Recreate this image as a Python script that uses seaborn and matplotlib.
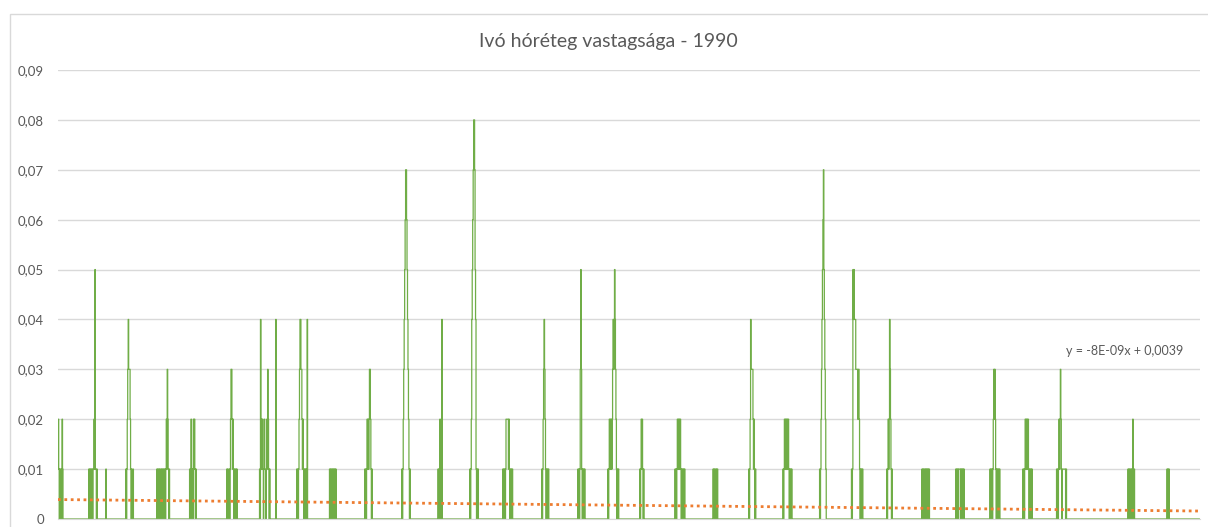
import numpy as np
import pandas as pd
import seaborn as sns
import matplotlib.pyplot as plt
from matplotlib.ticker import FuncFormatter, MultipleLocator
from matplotlib.patches import Rectangle

# chart data
title = "Ivó hóréteg vastagsága - 1990"
n_samples = 2400
minutes_per_sample = 120
# snow depth bursts: first sample index + depth per sample (in cm)
cluster_start = [0, 65, 101, 143, 208, 277, 355, 424, 458, 502, 571, 645, 723, 799,
                 866, 935, 1017, 1093, 1156, 1223, 1297, 1377, 1452, 1524, 1601,
                 1668, 1742, 1816, 1887, 1959, 2028, 2099, 2249, 2331]
cluster_levels = ["12101101021", "101011010112151101", "1", "10123433321010010",
                  "1011010110101101010121321010", "10121010212101",
                  "1010010123321210101101", "1041212101211012132101", "4",
                  "10101234433212101010104", "10101101010101", "10101212123321010",
                  "1012345677654321010", "10102010400", "1012456788754101010",
                  "101010122222121010101", "1012343210101010", "101013531010101",
                  "10121212123434543210101", "1012121010", "101012121212101010101",
                  "1010110101", "101243333212101", "1012121212121010101",
                  "101234567543210", "101545444333323321010101", "1012124321010",
                  "1010110101010101", "101010111101010101", "1010101232321010101010",
                  "10101212121210101101", "101012123210111111101", "10101101012101",
                  "10101"]
trend_slope = -8e-09
trend_intercept = 0.0039
trend_label = "y = -8E-09x + 0,0039"

depth = np.zeros(n_samples)
for start, levels in zip(cluster_start, cluster_levels):
    for i, ch in enumerate(levels):
        depth[start + i] = int(ch) / 100

df = pd.DataFrame({"x": np.arange(n_samples) * minutes_per_sample, "depth": depth})
df["trend"] = trend_slope * df["x"] + trend_intercept

sns.set_style("white")
plt.rcParams["font.family"] = ["Lato", "DejaVu Sans"]

fig = plt.figure(figsize=(12.08, 5.27), dpi=100)
ax = fig.add_axes([58 / 1208, 8 / 527, 1142 / 1208, 449 / 527])

sns.lineplot(data=df, x="x", y="depth", color="#70AD47", linewidth=0.9,
             estimator=None, drawstyle="steps-mid", ax=ax)
sns.lineplot(data=df, x="x", y="trend", color="#ED7D31", linewidth=2,
             linestyle=(0, (1, 1.3)), estimator=None, ax=ax)

ax.set_xlim(0, n_samples * minutes_per_sample)
ax.set_ylim(0, 0.09)
ax.yaxis.set_major_locator(MultipleLocator(0.01))
ax.yaxis.set_major_formatter(FuncFormatter(
    lambda v, p: "0" if abs(v) < 1e-9 else f"{v:.2f}".replace(".", ",")))
ax.grid(axis="y", color="#D9D9D9", linewidth=1)
ax.set_axisbelow(True)
ax.set_xticks([])
ax.set_xlabel("")
ax.set_ylabel("")
ax.tick_params(axis="y", length=0, pad=10, labelsize=9.5, labelcolor="#595959")
for s in ["left", "top", "right"]:
    ax.spines[s].set_visible(False)
ax.spines["bottom"].set_color("#D9D9D9")

fig.text(608 / 1208, 1 - 42 / 527, title, ha="center", va="center",
         fontsize=14, color="#595959")
fig.text(1183 / 1208, 1 - 351 / 527, trend_label, ha="right", va="center",
         fontsize=9, color="#595959")

fig.add_artist(Rectangle((10 / 1208, -0.1), 1.2, 1 - 14 / 527 + 0.1,
                         transform=fig.transFigure, fill=False,
                         edgecolor="#D9D9D9", linewidth=1))

fig.savefig("out.png", dpi=100)
